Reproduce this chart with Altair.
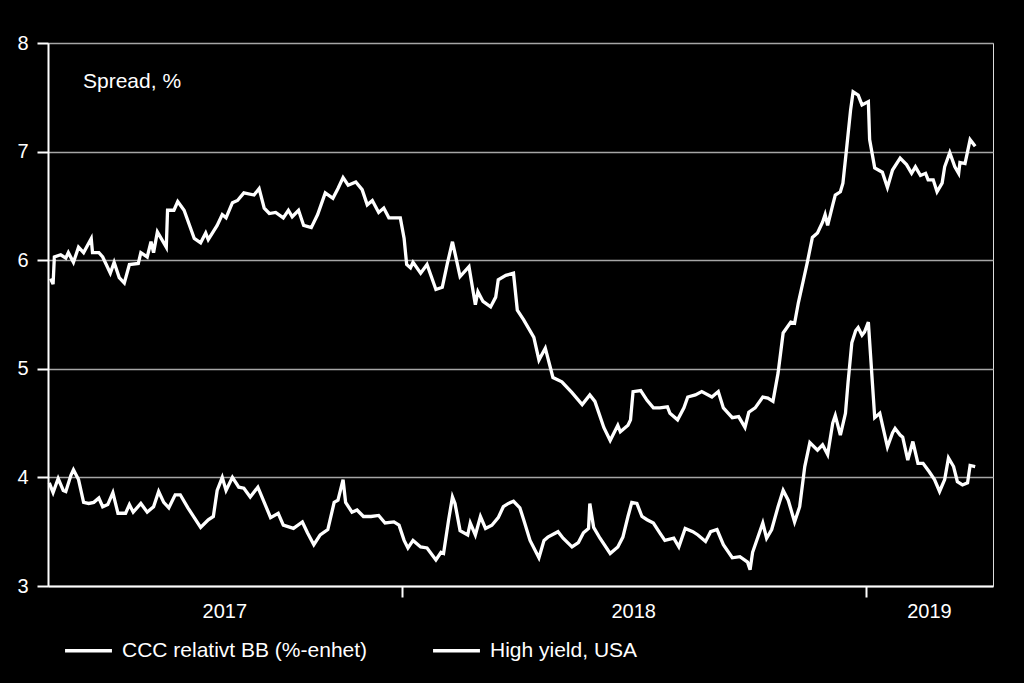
import altair as alt
import pandas as pd

# ---------------- data ----------------
series_names = ["CCC relativt BB (%-enhet)", "High yield, USA"]

ccc_dates = [
    "2017-03-31", "2017-04-02", "2017-04-03", "2017-04-08", "2017-04-12", "2017-04-14", "2017-04-18",
    "2017-04-22", "2017-04-26", "2017-05-02", "2017-05-03", "2017-05-08", "2017-05-11", "2017-05-17",
    "2017-05-20", "2017-05-24", "2017-05-28", "2017-06-01", "2017-06-08", "2017-06-10", "2017-06-15",
    "2017-06-18", "2017-06-20", "2017-06-23", "2017-06-30", "2017-07-01", "2017-07-06", "2017-07-09",
    "2017-07-14", "2017-07-22", "2017-07-27", "2017-07-31", "2017-08-02", "2017-08-09", "2017-08-13",
    "2017-08-16", "2017-08-21", "2017-08-25", "2017-08-30", "2017-09-07", "2017-09-11", "2017-09-15",
    "2017-09-19", "2017-09-24", "2017-09-30", "2017-10-04", "2017-10-07", "2017-10-12", "2017-10-16",
    "2017-10-22", "2017-10-27", "2017-11-02", "2017-11-08", "2017-11-12", "2017-11-16", "2017-11-20",
    "2017-11-26", "2017-12-01", "2017-12-05", "2017-12-09", "2017-12-14", "2017-12-18", "2017-12-22",
    "2017-12-31", "2018-01-03", "2018-01-05", "2018-01-08", "2018-01-10", "2018-01-16", "2018-01-21",
    "2018-01-28", "2018-02-02", "2018-02-06", "2018-02-10", "2018-02-16", "2018-02-23", "2018-02-28",
    "2018-03-02", "2018-03-06", "2018-03-12", "2018-03-16", "2018-03-18", "2018-03-24", "2018-03-30",
    "2018-04-02", "2018-04-07", "2018-04-15", "2018-04-19", "2018-04-24", "2018-04-30", "2018-05-07",
    "2018-05-15", "2018-05-23", "2018-05-29", "2018-06-02", "2018-06-09", "2018-06-14", "2018-06-20",
    "2018-06-22", "2018-06-28", "2018-06-30", "2018-07-02", "2018-07-08", "2018-07-13", "2018-07-18",
    "2018-07-23", "2018-07-29", "2018-07-31", "2018-08-06", "2018-08-11", "2018-08-14", "2018-08-20",
    "2018-08-25", "2018-09-02", "2018-09-07", "2018-09-11", "2018-09-18", "2018-09-23", "2018-09-28",
    "2018-10-01", "2018-10-06", "2018-10-12", "2018-10-16", "2018-10-20", "2018-10-24", "2018-10-28",
    "2018-11-03", "2018-11-06", "2018-11-09", "2018-11-13", "2018-11-16", "2018-11-20", "2018-11-24",
    "2018-11-28", "2018-11-30", "2018-12-02", "2018-12-06", "2018-12-08", "2018-12-12", "2018-12-14",
    "2018-12-17", "2018-12-20", "2018-12-22", "2018-12-26", "2018-12-29", "2019-01-03", "2019-01-04",
    "2019-01-08", "2019-01-14", "2019-01-18", "2019-01-22", "2019-01-28", "2019-02-02", "2019-02-06",
    "2019-02-09", "2019-02-13", "2019-02-17", "2019-02-19", "2019-02-23", "2019-02-26", "2019-03-02",
    "2019-03-04", "2019-03-08", "2019-03-12", "2019-03-15", "2019-03-16", "2019-03-20", "2019-03-24",
    "2019-03-28",
]
ccc_values = [
    5.83, 5.78, 6.03, 6.05, 6.02, 6.07, 5.98,
    6.12, 6.07, 6.20, 6.07, 6.07, 6.03, 5.88,
    5.98, 5.84, 5.79, 5.96, 5.97, 6.07, 6.03,
    6.17, 6.07, 6.26, 6.12, 6.46, 6.46, 6.54,
    6.46, 6.20, 6.16, 6.25, 6.19, 6.32, 6.42,
    6.39, 6.53, 6.55, 6.62, 6.60, 6.66, 6.48,
    6.43, 6.44, 6.39, 6.46, 6.40, 6.46, 6.32,
    6.30, 6.42, 6.62, 6.57, 6.66, 6.76, 6.69,
    6.72, 6.65, 6.51, 6.55, 6.44, 6.48, 6.39,
    6.39, 6.20, 5.96, 5.93, 5.98, 5.88, 5.96,
    5.73, 5.75, 5.97, 6.17, 5.85, 5.94, 5.59,
    5.71, 5.62, 5.57, 5.66, 5.82, 5.86, 5.88,
    5.54, 5.45, 5.29, 5.08, 5.19, 4.92, 4.88,
    4.78, 4.67, 4.76, 4.70, 4.46, 4.34, 4.48,
    4.42, 4.48, 4.53, 4.79, 4.80, 4.71, 4.64,
    4.64, 4.65, 4.59, 4.53, 4.64, 4.74, 4.76,
    4.79, 4.74, 4.79, 4.64, 4.55, 4.56, 4.46,
    4.60, 4.64, 4.74, 4.73, 4.70, 4.96, 5.33,
    5.43, 5.42, 5.61, 5.82, 5.98, 6.21, 6.25,
    6.35, 6.42, 6.32, 6.51, 6.60, 6.63, 6.71,
    7.04, 7.38, 7.55, 7.52, 7.43, 7.46, 7.11,
    6.85, 6.81, 6.67, 6.83, 6.94, 6.88, 6.80,
    6.86, 6.78, 6.80, 6.74, 6.74, 6.63, 6.71,
    6.86, 6.99, 6.86, 6.80, 6.90, 6.89, 7.11,
    7.05,
]

hy_dates = [
    "2017-03-30", "2017-04-02", "2017-04-06", "2017-04-10", "2017-04-12", "2017-04-16", "2017-04-18",
    "2017-04-22", "2017-04-26", "2017-04-30", "2017-05-04", "2017-05-08", "2017-05-11", "2017-05-15",
    "2017-05-19", "2017-05-23", "2017-05-29", "2017-06-01", "2017-06-04", "2017-06-10", "2017-06-15",
    "2017-06-20", "2017-06-24", "2017-06-28", "2017-07-02", "2017-07-07", "2017-07-11", "2017-07-17",
    "2017-07-22", "2017-07-27", "2017-08-02", "2017-08-06", "2017-08-09", "2017-08-13", "2017-08-16",
    "2017-08-21", "2017-08-26", "2017-08-30", "2017-09-04", "2017-09-10", "2017-09-15", "2017-09-20",
    "2017-09-26", "2017-09-30", "2017-10-08", "2017-10-15", "2017-10-19", "2017-10-24", "2017-10-29",
    "2017-11-04", "2017-11-09", "2017-11-12", "2017-11-16", "2017-11-18", "2017-11-23", "2017-11-27",
    "2017-12-02", "2017-12-08", "2017-12-14", "2017-12-19", "2017-12-26", "2017-12-30", "2018-01-03",
    "2018-01-06", "2018-01-10", "2018-01-16", "2018-01-21", "2018-01-28", "2018-02-01", "2018-02-03",
    "2018-02-07", "2018-02-10", "2018-02-12", "2018-02-16", "2018-02-22", "2018-02-24", "2018-02-28",
    "2018-03-04", "2018-03-08", "2018-03-13", "2018-03-18", "2018-03-22", "2018-03-26", "2018-03-30",
    "2018-04-04", "2018-04-07", "2018-04-12", "2018-04-19", "2018-04-23", "2018-04-26", "2018-05-04",
    "2018-05-08", "2018-05-15", "2018-05-20", "2018-05-24", "2018-05-28", "2018-05-29", "2018-06-01",
    "2018-06-06", "2018-06-14", "2018-06-20", "2018-06-24", "2018-06-28", "2018-07-01", "2018-07-05",
    "2018-07-09", "2018-07-13", "2018-07-18", "2018-07-23", "2018-07-27", "2018-08-03", "2018-08-07",
    "2018-08-12", "2018-08-18", "2018-08-22", "2018-08-28", "2018-09-01", "2018-09-06", "2018-09-11",
    "2018-09-18", "2018-09-24", "2018-09-30", "2018-10-02", "2018-10-04", "2018-10-12", "2018-10-15",
    "2018-10-19", "2018-10-24", "2018-10-28", "2018-11-01", "2018-11-06", "2018-11-10", "2018-11-14",
    "2018-11-18", "2018-11-24", "2018-11-28", "2018-12-02", "2018-12-06", "2018-12-08", "2018-12-12",
    "2018-12-16", "2018-12-18", "2018-12-21", "2018-12-24", "2018-12-26", "2018-12-29", "2018-12-31",
    "2019-01-03", "2019-01-06", "2019-01-08", "2019-01-12", "2019-01-18", "2019-01-22", "2019-01-24",
    "2019-01-28", "2019-01-30", "2019-02-03", "2019-02-07", "2019-02-11", "2019-02-15", "2019-02-20",
    "2019-02-24", "2019-02-28", "2019-03-04", "2019-03-07", "2019-03-11", "2019-03-14", "2019-03-18",
    "2019-03-22", "2019-03-24", "2019-03-28",
]
hy_values = [
    3.95, 3.86, 3.99, 3.88, 3.87, 4.02, 4.07,
    3.98, 3.77, 3.76, 3.77, 3.81, 3.73, 3.75,
    3.86, 3.67, 3.67, 3.75, 3.68, 3.76, 3.68,
    3.73, 3.87, 3.77, 3.72, 3.84, 3.84, 3.72,
    3.63, 3.54, 3.61, 3.64, 3.88, 4.00, 3.88,
    4.00, 3.91, 3.90, 3.82, 3.91, 3.77, 3.63,
    3.67, 3.56, 3.53, 3.59, 3.49, 3.38, 3.47,
    3.52, 3.77, 3.79, 3.98, 3.77, 3.68, 3.70,
    3.64, 3.64, 3.65, 3.58, 3.59, 3.56, 3.42,
    3.35, 3.42, 3.36, 3.35, 3.24, 3.31, 3.30,
    3.61, 3.82, 3.76, 3.51, 3.47, 3.58, 3.47,
    3.64, 3.53, 3.56, 3.63, 3.73, 3.76, 3.78,
    3.72, 3.61, 3.42, 3.26, 3.42, 3.45, 3.50,
    3.44, 3.36, 3.40, 3.49, 3.53, 3.76, 3.54,
    3.44, 3.30, 3.36, 3.45, 3.64, 3.77, 3.76,
    3.64, 3.61, 3.58, 3.49, 3.42, 3.44, 3.36,
    3.53, 3.50, 3.47, 3.41, 3.50, 3.52, 3.38,
    3.26, 3.27, 3.22, 3.15, 3.31, 3.58, 3.44,
    3.52, 3.73, 3.88, 3.79, 3.59, 3.73, 4.10,
    4.32, 4.25, 4.30, 4.21, 4.50, 4.57, 4.39,
    4.59, 4.87, 5.24, 5.35, 5.38, 5.31, 5.34,
    5.43, 4.90, 4.55, 4.59, 4.28, 4.41, 4.45,
    4.39, 4.37, 4.16, 4.33, 4.13, 4.13, 4.05,
    3.98, 3.87, 3.98, 4.18, 4.10, 3.96, 3.93,
    3.95, 4.11, 4.10,
]

y_ticks = [3, 4, 5, 6, 7, 8]
year_labels = ["2017", "2018", "2019"]
x_start = "2017-03-29"
x_end = "2019-04-11"
year_starts = ["2018-01-01", "2019-01-01"]
annotation = "Spread, %"

# ---------------- tables ----------------
df = pd.concat([
    pd.DataFrame({"date": pd.to_datetime(ccc_dates), "value": ccc_values, "series": series_names[0]}),
    pd.DataFrame({"date": pd.to_datetime(hy_dates), "value": hy_values, "series": series_names[1]}),
], ignore_index=True)

edges = [pd.Timestamp(x_start)] + [pd.Timestamp(d) for d in year_starts] + [pd.Timestamp(x_end)]
mids = [edges[i] + (edges[i + 1] - edges[i]) / 2 for i in range(len(year_labels))]
year_df = pd.DataFrame({"date": mids, "label": year_labels})


def dt(s):
    t = pd.Timestamp(s)
    return alt.DateTime(year=t.year, month=t.month, date=t.day)


W, H = 945, 543
FONT = "Liberation Sans"

x_scale = alt.Scale(domain=[dt(x_start), dt(x_end)], nice=False)

lines = alt.Chart(df).mark_line(strokeWidth=3.3).encode(
    x=alt.X("date:T", scale=x_scale,
            axis=alt.Axis(values=[dt(d) for d in year_starts], labels=False, title=None, grid=False,
                          tickSize=11, tickColor="white", tickWidth=2,
                          domainColor="white", domainWidth=2)),
    y=alt.Y("value:Q", scale=alt.Scale(domain=[3, 8], nice=False, zero=False),
            axis=alt.Axis(values=y_ticks, title=None, tickSize=11, tickColor="white", tickWidth=2,
                          labelPadding=9, labelFontSize=20, labelColor="white", labelFont=FONT,
                          domainColor="white", domainWidth=2,
                          grid=True, gridColor="#a6a6a6", gridWidth=1.5)),
    color=alt.Color("series:N",
                    scale=alt.Scale(domain=series_names, range=["white", "white"]),
                    legend=alt.Legend(orient="none", legendX=15, legendY=582, direction="horizontal",
                                      title=None, symbolType="stroke", symbolSize=2200,
                                      symbolStrokeWidth=3.3, symbolStrokeColor="white",
                                      labelFontSize=21, labelColor="white", labelFont=FONT,
                                      labelOffset=8, labelLimit=400, columnPadding=58)),
    detail="series:N",
)

years = alt.Chart(year_df).mark_text(fontSize=20, color="white", font=FONT, baseline="middle",
                                     align="center").encode(
    x=alt.X("date:T", scale=x_scale),
    y=alt.value(H + 26),
    text="label:N",
)

note = alt.Chart(pd.DataFrame({"t": [annotation]})).mark_text(
    fontSize=21, color="white", font=FONT, align="left", baseline="middle").encode(
    x=alt.value(35), y=alt.value(39), text="t:N")

chart = alt.layer(lines, years, note).properties(
    width=W, height=H,
    padding={"left": 48, "top": 43, "right": 31, "bottom": 97},
    autosize=alt.AutoSizeParams(type="none"),
    background="black",
).configure_view(stroke=None).configure(font=FONT)

chart.save("out.html", embed_options={"renderer": "svg", "actions": False})
